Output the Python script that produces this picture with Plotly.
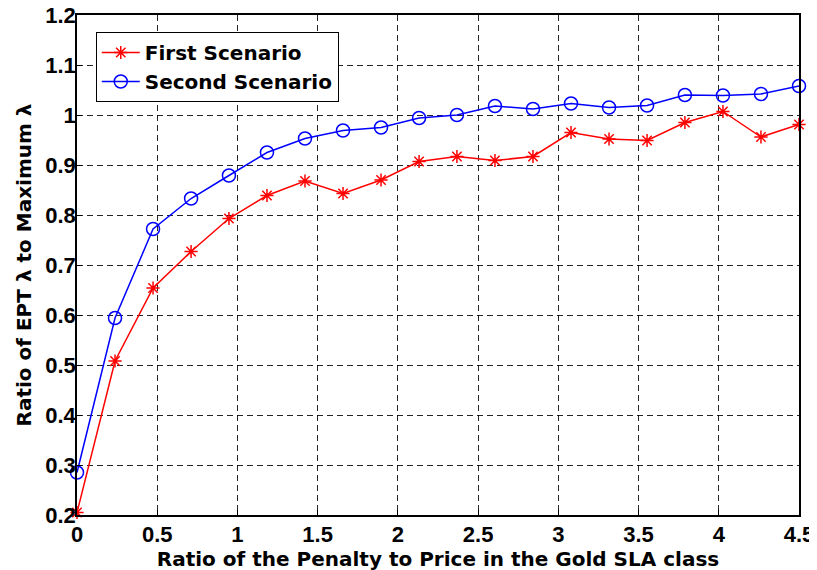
import plotly.graph_objects as go

x_vals = [0, 0.237, 0.474, 0.711, 0.947, 1.184, 1.421, 1.658, 1.895, 2.132,
          2.368, 2.605, 2.842, 3.079, 3.316, 3.553, 3.789, 4.026, 4.263, 4.5]
first_scenario = [0.205, 0.508, 0.654, 0.727, 0.793, 0.839, 0.868, 0.843, 0.870, 0.907,
                  0.917, 0.909, 0.917, 0.965, 0.952, 0.949, 0.985, 1.007, 0.956, 0.981]
second_scenario = [0.285, 0.594, 0.772, 0.833, 0.879, 0.925, 0.953, 0.969, 0.975, 0.994,
                   1.000, 1.018, 1.012, 1.023, 1.015, 1.019, 1.040, 1.039, 1.042, 1.058]
x_ticks = [0, 0.5, 1, 1.5, 2, 2.5, 3, 3.5, 4, 4.5]
x_tick_text = ["0", "0.5", "1", "1.5", "2", "2.5", "3", "3.5", "4", "4.5"]
y_ticks = [0.2, 0.3, 0.4, 0.5, 0.6, 0.7, 0.8, 0.9, 1.0, 1.1, 1.2]
y_tick_text = ["0.2", "0.3", "0.4", "0.5", "0.6", "0.7", "0.8", "0.9", "1", "1.1", "1.2"]

FONT = "Liberation Sans, Arial, Helvetica, sans-serif"
WIDE = "DejaVu Sans, Verdana, sans-serif"

fig = go.Figure()
fig.add_trace(go.Scatter(
    x=x_vals, y=first_scenario, mode="lines+markers", name="First Scenario",
    line=dict(color="#ff0000", width=1.5),
    marker=dict(symbol="asterisk-open", size=11, color="#ff0000",
                line=dict(color="#ff0000", width=1.5)),
    cliponaxis=False,
))
fig.add_trace(go.Scatter(
    x=x_vals, y=second_scenario, mode="lines+markers", name="Second Scenario",
    line=dict(color="#0000ff", width=1.5),
    marker=dict(symbol="circle-open", size=13, color="#0000ff",
                line=dict(color="#0000ff", width=1.5)),
    cliponaxis=False,
))

grid_common = dict(
    showgrid=True, gridcolor="rgba(0,0,0,0.85)", gridwidth=1, griddash="6px,4px",
    showline=True, linecolor="black", linewidth=1.5, mirror=True,
    ticks="inside", ticklen=5, tickcolor="black", zeroline=False,
    tickfont=dict(family=FONT, size=22, color="black", weight="bold"),
    automargin=False, ticklabeloverflow="allow",
)

fig.update_xaxes(
    range=[0, 4.5], tickmode="array", tickvals=x_ticks, ticktext=x_tick_text,
    ticklabelstandoff=-1,
    title=dict(text="Ratio of the Penalty to Price in the Gold SLA class",
               font=dict(family=WIDE, size=20, color="black", weight="bold"), standoff=0),
    **grid_common,
)
fig.update_yaxes(
    range=[0.2, 1.2], tickmode="array", tickvals=y_ticks, ticktext=y_tick_text,
    ticklabelstandoff=-5,
    title=dict(text="Ratio of EPT λ to Maximum λ",
               font=dict(family=WIDE, size=20, color="black", weight="bold"), standoff=8),
    **grid_common,
)

fig.update_layout(
    width=817, height=570,
    margin=dict(l=69, r=26, t=7, b=63),
    paper_bgcolor="white", plot_bgcolor="white",
    showlegend=True,
    legend=dict(
        x=0.026, y=0.966, xanchor="left", yanchor="top",
        bgcolor="white", bordercolor="black", borderwidth=1,
        font=dict(family=WIDE, size=20, color="black", weight="bold"),
        itemwidth=38, tracegroupgap=0,
    ),
)

fig.write_html("out.html")
